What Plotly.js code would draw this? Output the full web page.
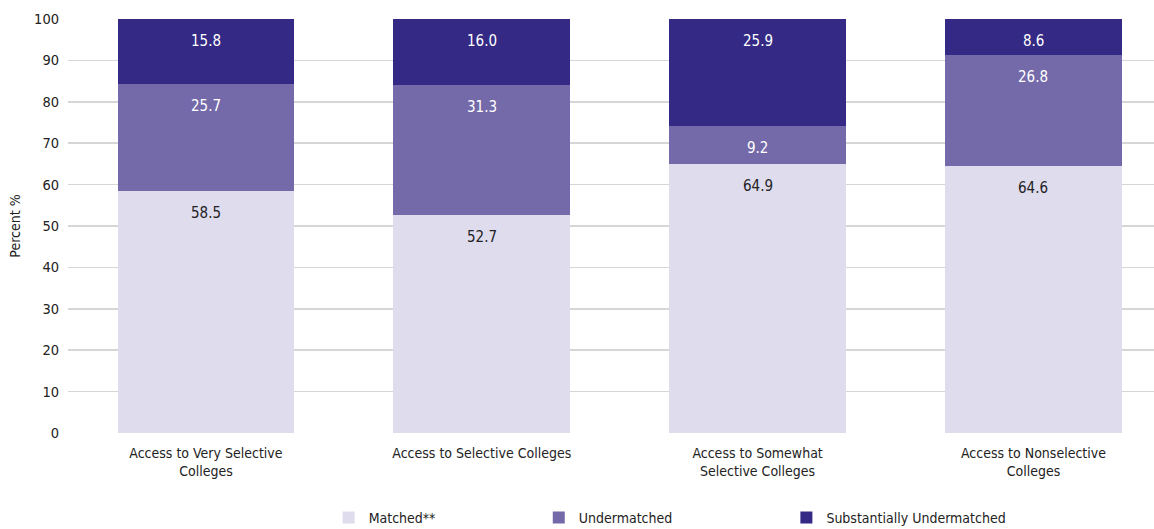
<!DOCTYPE html>
<html><head><meta charset="utf-8">
<script src="https://cdn.plot.ly/plotly-3.0.1.min.js"></script>
<style>html,body{margin:0;padding:0;background:#fff}#chart{width:1154px;height:529px}</style>
</head><body><div id="chart"></div>
<script>
const categories = ["Access to Very Selective<br>Colleges", "Access to Selective Colleges", "Access to Somewhat<br>Selective Colleges", "Access to Nonselective<br>Colleges"];
const matched = [58.5, 52.7, 64.9, 64.6];
const undermatched = [25.7, 31.3, 9.2, 26.8];
const substantially = [15.8, 16.0, 25.9, 8.6];
const seriesNames = ["Matched**", "Undermatched", "Substantially Undermatched"];
const colors = ["#dfdcee", "#756aa9", "#342a85"];
const textColors = ["#222222", "#ffffff", "#ffffff"];

const FONT = "'DejaVu Sans Condensed', 'Liberation Sans Narrow', 'Roboto', sans-serif";
const series = [matched, undermatched, substantially];
const xIdx = categories.map((c, i) => i);

const traces = series.map((vals, k) => ({
  type: 'bar', x: xIdx, y: vals, name: seriesNames[k],
  marker: {color: colors[k], line: {width: 0}},
  hoverinfo: 'y+name',
  legend: k === 0 ? 'legend' : (k === 1 ? 'legend2' : 'legend3')
}));

const annotations = [];
const cum = categories.map(() => 0);
series.forEach((vals, k) => {
  vals.forEach((v, i) => {
    cum[i] += v;
    annotations.push({x: i, y: cum[i], xref: 'x', yref: 'y', text: v.toFixed(1),
      showarrow: false, yanchor: 'middle', yshift: -22,
      font: {family: FONT, size: 15, color: textColors[k]}});
  });
});

const legendBase = {orientation: 'h', yanchor: 'middle', xanchor: 'left', y: -0.205,
  font: {family: FONT, size: 14, color: '#222'}, bgcolor: 'rgba(0,0,0,0)', itemwidth: 30};

const layout = {
  width: 1154, height: 529,
  margin: {l: 67.5, r: 0, t: 19, b: 96, autoexpand: false},
  paper_bgcolor: '#fff', plot_bgcolor: '#fff',
  barmode: 'stack', bargap: 0.359,
  font: {family: FONT, size: 14, color: '#222'},
  xaxis: {range: [-0.5, 3.437], tickmode: 'array', tickvals: xIdx, ticktext: categories,
    showgrid: false, zeroline: false, showline: false, ticks: '', ticklabelstandoff: 10,
    tickfont: {family: FONT, size: 14, color: '#222'}, fixedrange: true},
  yaxis: {range: [0, 100], dtick: 10, showgrid: true, gridcolor: '#d6d6d6', gridwidth: 1.5,
    zeroline: false, showline: false, ticks: '', ticklabelstandoff: 8,
    tickfont: {family: FONT, size: 14.5, color: '#222'},
    title: {text: 'Percent %', font: {family: FONT, size: 14, color: '#222'}, standoff: 10}},
  showlegend: true,
  legend: Object.assign({}, legendBase, {x: 0.24}),
  legend2: Object.assign({}, legendBase, {x: 0.4335}),
  legend3: Object.assign({}, legendBase, {x: 0.6615}),
  annotations: annotations
};

Plotly.newPlot('chart', traces, layout, {displayModeBar: false, staticPlot: true});
</script></body></html>
